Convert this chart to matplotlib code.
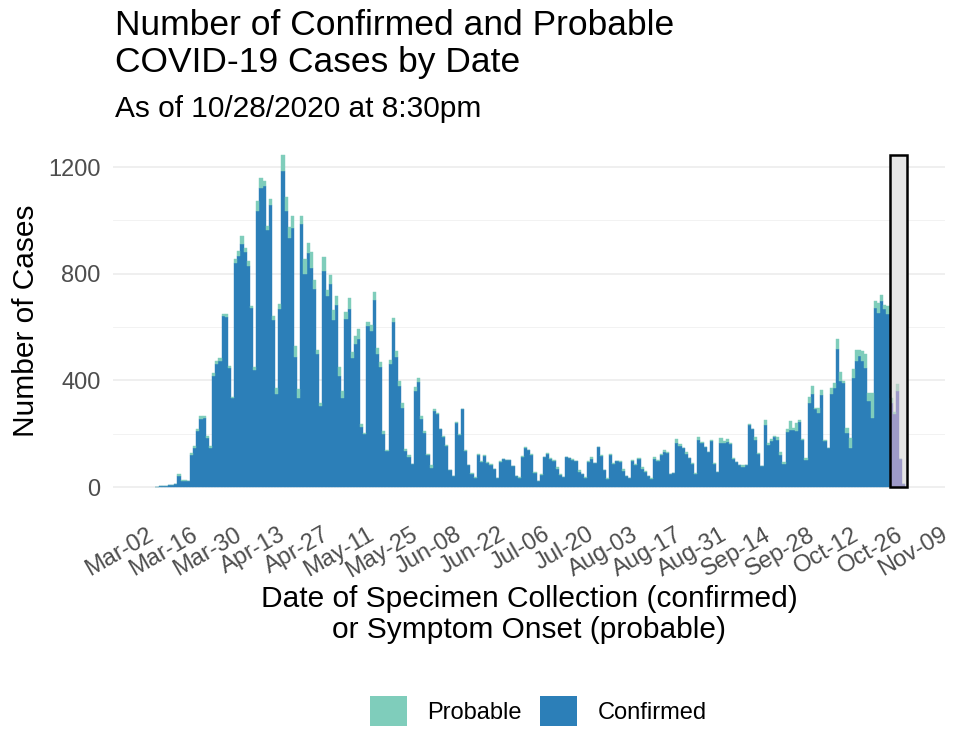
import matplotlib
matplotlib.use("Agg")
import matplotlib.pyplot as plt
import matplotlib.dates as mdates
import pandas as pd
from matplotlib.patches import Patch, Rectangle
from matplotlib.transforms import ScaledTranslation

plt.rcParams["font.family"] = ["Liberation Sans", "DejaVu Sans"]

# daily counts, starting 2020-03-05 (one value per day)
start_date = "2020-03-05"
confirmed = [
    # Mar 5-31
    1, 2, 3, 4, 6, 8, 10, 40, 24, 23, 22, 120, 148, 210, 255, 258, 185, 145,
    415, 460, 472, 640, 638, 448, 335, 840, 868,
    # Apr
    912, 880, 830, 670, 440, 1035, 1122, 1129, 962, 1058, 625, 347, 666, 1185,
    1035, 935, 972, 487, 335, 985, 800, 879, 822, 741, 497, 304, 810, 716, 762, 625,
    # May
    682, 416, 335, 629, 666, 485, 537, 554, 225, 200, 604, 585, 700, 500, 450,
    197, 135, 462, 620, 489, 379, 297, 135, 112, 85, 360, 395, 254, 204, 120, 72,
    # Jun
    285, 272, 216, 187, 154, 62, 41, 241, 195, 291, 135, 82, 50, 35, 120, 95,
    116, 91, 82, 66, 32, 95, 104, 101, 100, 79, 41, 35, 112, 147,
    # Jul
    137, 120, 52, 22, 45, 112, 123, 104, 99, 69, 44, 39, 112, 108, 102, 97, 58,
    47, 35, 93, 106, 89, 149, 118, 62, 31, 120, 88, 97, 95, 60,
    # Aug
    41, 34, 97, 81, 104, 69, 58, 40, 31, 106, 99, 120, 130, 128, 48, 52, 164,
    154, 145, 125, 107, 88, 50, 176, 164, 150, 131, 174, 88, 56, 164,
    # Sep
    166, 169, 163, 106, 94, 81, 74, 81, 232, 216, 176, 125, 78, 232, 157, 174,
    186, 176, 120, 86, 205, 212, 215, 210, 245, 175, 100, 316, 350, 291,
    # Oct 1-28
    279, 345, 172, 145, 350, 372, 516, 397, 391, 204, 147, 410, 472, 491, 472,
    447, 322, 260, 670, 654, 697, 666, 647, 316, 272, 360, 104, 10,
]
probable = [
    0, 0, 0, 0, 0, 0, 0, 7, 1, 2, 2, 9, 6, 6, 11, 10, 6, 9,
    14, 12, 10, 7, 9, 6, 4, 14, 17,
    29, 17, 17, 9, 10, 37, 38, 18, 17, 21, 16, 25, 19, 60,
    53, 40, 44, 42, 31, 31, 54, 37, 60, 34, 17, 12, 52, 21, 33, 37,
    33, 34, 25, 27, 41, 22, 29, 37, 10, 4, 16, 22, 32, 22, 20,
    13, 4, 13, 15, 21, 18, 17, 6, 7, 0, 15, 12, 12, 6, 2, 10,
    6, 4, 3, 3, 2, 2, 1, 3, 2, 3, 5, 2, 1, 1, 2, 1,
    3, 3, 3, 1, 1, 1, 2, 1, 1, 1, 1, 1, 3, 3,
    3, 4, 3, 2, 2, 2, 3, 3, 2, 5, 3, 0, 2, 2, 2, 2, 6,
    2, 1, 4, 5, 2, 2, 2, 2, 1, 2, 1, 2, 2, 6,
    1, 1, 4, 5, 3, 5, 2, 1, 1, 5, 2, 4, 9, 4, 1, 2, 17,
    6, 0, 5, 3, 1, 1, 10, 6, 1, 1, 2, 1, 1, 18,
    6, 11, 1, 1, 1, 1, 8, 1, 4, 1, 10, 1, 1, 19, 7, 6,
    6, 13, 11, 9, 11, 36, 8, 30, 7, 4, 10, 21, 29, 6,
    16, 19, 3, 2, 22, 17, 38, 35, 6, 16, 38, 31, 40, 21, 38,
    50, 32, 91, 27, 37, 23, 16, 32, 19, 8, 25, 2, 0,
]
incomplete_from = "2020-10-24"
tick_labels_from, tick_labels_to = "2020-03-02", "2020-11-09"

col_conf, col_prob = "#2C7FB8", "#7FCDBB"
col_conf_inc, col_prob_inc = "#9E9AC8", "#B4CFC6"

dates = pd.date_range(start_date, periods=len(confirmed), freq="D")
x = mdates.date2num(dates)
total = [c + p for c, p in zip(confirmed, probable)]
inc = dates >= pd.Timestamp(incomplete_from)

fig = plt.figure(figsize=(9.56, 7.30), dpi=100)
ax = fig.add_axes([113 / 956, 1 - 504 / 730, 832 / 956, 367 / 730])

# highlight box for recent (incomplete) days
x0 = mdates.date2num(pd.Timestamp(incomplete_from)) - 0.5
box_w = x[-1] + 1.0 - x0
ax.add_patch(Rectangle((x0, 0), box_w, max(total), facecolor="#E5E5E5",
                       edgecolor="none", zorder=1))
ax.add_patch(Rectangle((x0, 0), box_w, max(total), facecolor="none",
                       edgecolor="black", lw=1.8, zorder=4))

cc = [col_conf_inc if f else col_conf for f in inc]
pc = [col_prob_inc if f else col_prob for f in inc]
ax.bar(x, confirmed, width=1.0, color=cc, edgecolor=cc, lw=0.3, zorder=2)
ax.bar(x, probable, bottom=confirmed, width=1.0, color=pc, edgecolor=pc,
       lw=0.3, zorder=2)

ref = mdates.date2num(pd.Timestamp(tick_labels_from))
ax.set_xlim(ref - 10.95, ref + 253.1)
ax.set_ylim(-63.75, 1312.5)

for v in [0, 400, 800, 1200]:
    ax.axhline(v, color="#EBEBEB", lw=1.1, zorder=0)
for v in [200, 600, 1000]:
    ax.axhline(v, color="#F0F0F0", lw=0.6, zorder=0)

ticks = pd.date_range(tick_labels_from, tick_labels_to, freq="14D")
ax.set_xticks(mdates.date2num(ticks))
ax.set_xticklabels([t.strftime("%b-%d") for t in ticks], rotation=30,
                   ha="right", va="center", rotation_mode="anchor")
ax.set_yticks([0, 400, 800, 1200])
ax.tick_params(axis="both", length=0, labelsize=17, labelcolor="#4D4D4D")
ax.tick_params(axis="x", pad=18)
ax.tick_params(axis="y", pad=9)
for s in ax.spines.values():
    s.set_visible(False)

# nudge date labels a little right/down
shift = ScaledTranslation(4 / 100, -4 / 100, fig.dpi_scale_trans)
for lbl in ax.get_xticklabels():
    lbl.set_transform(lbl.get_transform() + shift)

fig.text(115 / 956, 1 - 35 / 730, "Number of Confirmed and Probable",
         fontsize=25.5, va="baseline")
fig.text(115 / 956, 1 - 72 / 730, "COVID-19 Cases by Date",
         fontsize=25.5, va="baseline")
fig.text(115 / 956, 1 - 117 / 730, "As of 10/28/2020 at 8:30pm",
         fontsize=21.5, va="baseline")

fig.text(529 / 956, 1 - 607 / 730, "Date of Specimen Collection (confirmed)",
         fontsize=21.5, ha="center", va="baseline")
fig.text(529 / 956, 1 - 638 / 730, "or Symptom Onset (probable)",
         fontsize=21.5, ha="center", va="baseline")
fig.text(34 / 956, 1 - 320.5 / 730, "Number of Cases", fontsize=21.5,
         rotation=90, ha="center", va="baseline", rotation_mode="anchor")

handles = [Patch(facecolor=col_prob, label="Probable"),
           Patch(facecolor=col_conf, label="Confirmed")]
fig.legend(handles=handles, loc="center", bbox_to_anchor=(538 / 956, 1 - 711 / 730),
           ncol=2, frameon=False, fontsize=17, handlelength=1.57,
           handleheight=1.57, handletextpad=0.85, columnspacing=0.8)

fig.savefig("out.png", dpi=100)
